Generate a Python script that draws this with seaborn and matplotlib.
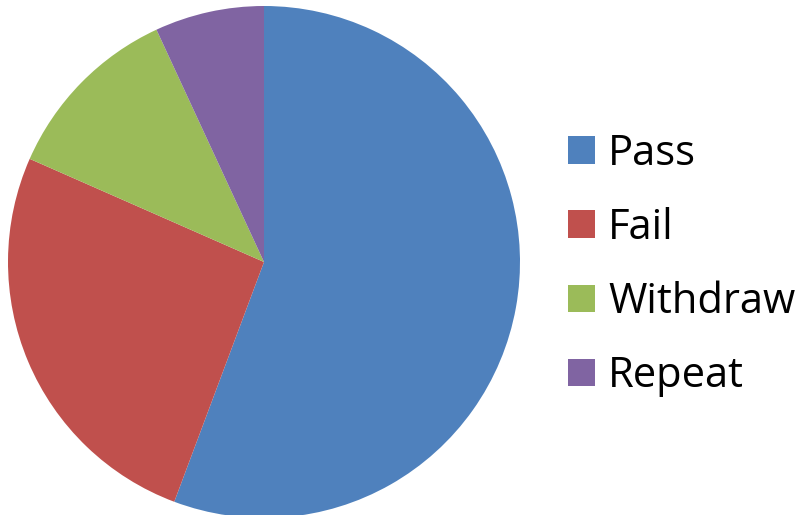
import matplotlib
matplotlib.use("Agg")
import matplotlib.pyplot as plt
import seaborn as sns

categories = ["Pass", "Fail", "Withdraw", "Repeat"]
values = [55.7, 25.9, 11.5, 6.9]
colors = ["#4F81BD", "#C0504D", "#9BBB59", "#8064A2"]

sns.set_theme(style="white")
plt.rcParams["font.family"] = ["Open Sans", "DejaVu Sans"]
plt.rcParams["text.color"] = "black"

W, H = 804, 515
fig = plt.figure(figsize=(W / 100, H / 100), dpi=100)
cx, cy, r = 264, 262, 256
ax = fig.add_axes([(cx - r) / W, (H - cy - r) / H, 2 * r / W, 2 * r / H])
wedges, _ = ax.pie(values, colors=sns.color_palette(colors), startangle=90,
                   counterclock=False, radius=1.0,
                   wedgeprops=dict(linewidth=0))
ax.set_xlim(-1, 1)
ax.set_ylim(-1, 1)
ax.set_aspect("equal")
ax.axis("off")

fs = 30
leg = fig.legend(wedges, categories, loc="center left",
                 bbox_to_anchor=(568 / W, (H - 265) / H),
                 frameon=False, fontsize=fs, borderpad=0, borderaxespad=0,
                 handlelength=0.65, handleheight=0.65, handletextpad=0.31,
                 labelspacing=0.77)
for t in leg.get_texts():
    t.set_color("black")

fig.savefig("out.png", dpi=100)
